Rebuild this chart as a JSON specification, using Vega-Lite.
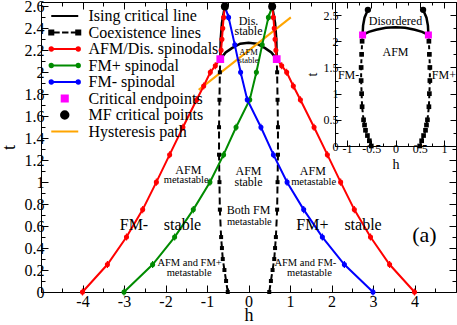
{
"$schema": "https://vega.github.io/schema/vega-lite/v6.json",
"autosize": {"type": "none"},
"padding": {"left": 41, "top": 2, "right": 1, "bottom": 33},
"width": 415,
"height": 290,
"config": {
  "font": "Liberation Serif",
  "view": {"stroke": null},
  "axis": {"domainColor": "black", "tickColor": "black", "labelColor": "black", "titleColor": "black", "labelFont": "Liberation Serif", "titleFont": "Liberation Serif", "titleFontWeight": "normal", "grid": false, "domainWidth": 1, "tickWidth": 1},
  "text": {"font": "Liberation Serif", "color": "black"}
},
"datasets": {
  "curves": [
    {"s":"AFM/Dis. spinodals","g":"rL","h":-4,"t":0},{"s":"AFM/Dis. spinodals","g":"rL","h":-3.4,"t":0.25},{"s":"AFM/Dis. spinodals","g":"rL","h":-2.94,"t":0.5},{"s":"AFM/Dis. spinodals","g":"rL","h":-2.55,"t":0.75},{"s":"AFM/Dis. spinodals","g":"rL","h":-2.22,"t":1},{"s":"AFM/Dis. spinodals","g":"rL","h":-1.9,"t":1.25},{"s":"AFM/Dis. spinodals","g":"rL","h":-1.58,"t":1.5},{"s":"AFM/Dis. spinodals","g":"rL","h":-1.25,"t":1.75},{"s":"AFM/Dis. spinodals","g":"rL","h":-1.08,"t":1.875},{"s":"AFM/Dis. spinodals","g":"rL","h":-0.92,"t":2},{"s":"AFM/Dis. spinodals","g":"rL","h":-0.8,"t":2.06},{"s":"AFM/Dis. spinodals","g":"rL","h":-0.68,"t":2.12},{"s":"AFM/Dis. spinodals","g":"rL","h":-0.66,"t":2.2},{"s":"AFM/Dis. spinodals","g":"rL","h":-0.64,"t":2.3},{"s":"AFM/Dis. spinodals","g":"rL","h":-0.62,"t":2.4},{"s":"AFM/Dis. spinodals","g":"rL","h":-0.6,"t":2.5},{"s":"AFM/Dis. spinodals","g":"rL","h":-0.57,"t":2.6},
    {"s":"AFM/Dis. spinodals","g":"rR","h":4,"t":0},{"s":"AFM/Dis. spinodals","g":"rR","h":3.4,"t":0.25},{"s":"AFM/Dis. spinodals","g":"rR","h":2.94,"t":0.5},{"s":"AFM/Dis. spinodals","g":"rR","h":2.55,"t":0.75},{"s":"AFM/Dis. spinodals","g":"rR","h":2.22,"t":1},{"s":"AFM/Dis. spinodals","g":"rR","h":1.9,"t":1.25},{"s":"AFM/Dis. spinodals","g":"rR","h":1.58,"t":1.5},{"s":"AFM/Dis. spinodals","g":"rR","h":1.25,"t":1.75},{"s":"AFM/Dis. spinodals","g":"rR","h":1.08,"t":1.875},{"s":"AFM/Dis. spinodals","g":"rR","h":0.92,"t":2},{"s":"AFM/Dis. spinodals","g":"rR","h":0.8,"t":2.06},{"s":"AFM/Dis. spinodals","g":"rR","h":0.68,"t":2.12},{"s":"AFM/Dis. spinodals","g":"rR","h":0.66,"t":2.2},{"s":"AFM/Dis. spinodals","g":"rR","h":0.64,"t":2.3},{"s":"AFM/Dis. spinodals","g":"rR","h":0.62,"t":2.4},{"s":"AFM/Dis. spinodals","g":"rR","h":0.6,"t":2.5},{"s":"AFM/Dis. spinodals","g":"rR","h":0.57,"t":2.6},
    {"s":"FM+ spinodal","g":"gr","h":-3,"t":0},{"s":"FM+ spinodal","g":"gr","h":-2.31,"t":0.25},{"s":"FM+ spinodal","g":"gr","h":-1.78,"t":0.5},{"s":"FM+ spinodal","g":"gr","h":-1.33,"t":0.75},{"s":"FM+ spinodal","g":"gr","h":-0.93,"t":1},{"s":"FM+ spinodal","g":"gr","h":-0.6,"t":1.25},{"s":"FM+ spinodal","g":"gr","h":-0.3,"t":1.5},{"s":"FM+ spinodal","g":"gr","h":0.03,"t":1.75},{"s":"FM+ spinodal","g":"gr","h":0.19,"t":2},{"s":"FM+ spinodal","g":"gr","h":0.33,"t":2.25},{"s":"FM+ spinodal","g":"gr","h":0.48,"t":2.5},{"s":"FM+ spinodal","g":"gr","h":0.57,"t":2.6},
    {"s":"FM- spinodal","g":"bl","h":3,"t":0},{"s":"FM- spinodal","g":"bl","h":2.31,"t":0.25},{"s":"FM- spinodal","g":"bl","h":1.78,"t":0.5},{"s":"FM- spinodal","g":"bl","h":1.33,"t":0.75},{"s":"FM- spinodal","g":"bl","h":0.93,"t":1},{"s":"FM- spinodal","g":"bl","h":0.6,"t":1.25},{"s":"FM- spinodal","g":"bl","h":0.3,"t":1.5},{"s":"FM- spinodal","g":"bl","h":-0.03,"t":1.75},{"s":"FM- spinodal","g":"bl","h":-0.19,"t":2},{"s":"FM- spinodal","g":"bl","h":-0.33,"t":2.25},{"s":"FM- spinodal","g":"bl","h":-0.48,"t":2.5},{"s":"FM- spinodal","g":"bl","h":-0.57,"t":2.6},
    {"s":"Coexistence lines","g":"cL","h":-0.5,"t":0},{"s":"Coexistence lines","g":"cL","h":-0.54,"t":0.1},{"s":"Coexistence lines","g":"cL","h":-0.58,"t":0.2},{"s":"Coexistence lines","g":"cL","h":-0.62,"t":0.3},{"s":"Coexistence lines","g":"cL","h":-0.64,"t":0.4},{"s":"Coexistence lines","g":"cL","h":-0.66,"t":0.5},{"s":"Coexistence lines","g":"cL","h":-0.69,"t":0.75},{"s":"Coexistence lines","g":"cL","h":-0.7,"t":1},{"s":"Coexistence lines","g":"cL","h":-0.71,"t":1.25},{"s":"Coexistence lines","g":"cL","h":-0.71,"t":1.5},{"s":"Coexistence lines","g":"cL","h":-0.7,"t":1.75},{"s":"Coexistence lines","g":"cL","h":-0.69,"t":2},{"s":"Coexistence lines","g":"cL","h":-0.68,"t":2.12},
    {"s":"Coexistence lines","g":"cR","h":0.5,"t":0},{"s":"Coexistence lines","g":"cR","h":0.54,"t":0.1},{"s":"Coexistence lines","g":"cR","h":0.58,"t":0.2},{"s":"Coexistence lines","g":"cR","h":0.62,"t":0.3},{"s":"Coexistence lines","g":"cR","h":0.64,"t":0.4},{"s":"Coexistence lines","g":"cR","h":0.66,"t":0.5},{"s":"Coexistence lines","g":"cR","h":0.69,"t":0.75},{"s":"Coexistence lines","g":"cR","h":0.7,"t":1},{"s":"Coexistence lines","g":"cR","h":0.71,"t":1.25},{"s":"Coexistence lines","g":"cR","h":0.71,"t":1.5},{"s":"Coexistence lines","g":"cR","h":0.7,"t":1.75},{"s":"Coexistence lines","g":"cR","h":0.69,"t":2},{"s":"Coexistence lines","g":"cR","h":0.68,"t":2.12},
    {"s":"Ising critical line","g":"iA","h":-0.68,"t":2.12},{"s":"Ising critical line","g":"iA","h":-0.55,"t":2.18},{"s":"Ising critical line","g":"iA","h":-0.4,"t":2.22},{"s":"Ising critical line","g":"iA","h":-0.2,"t":2.26},{"s":"Ising critical line","g":"iA","h":0,"t":2.27},{"s":"Ising critical line","g":"iA","h":0.2,"t":2.26},{"s":"Ising critical line","g":"iA","h":0.4,"t":2.22},{"s":"Ising critical line","g":"iA","h":0.55,"t":2.18},{"s":"Ising critical line","g":"iA","h":0.68,"t":2.12},
    {"s":"Ising critical line","g":"iL","h":-0.68,"t":2.12},{"s":"Ising critical line","g":"iL","h":-0.67,"t":2.3},{"s":"Ising critical line","g":"iL","h":-0.64,"t":2.45},{"s":"Ising critical line","g":"iL","h":-0.57,"t":2.6},
    {"s":"Ising critical line","g":"iR","h":0.68,"t":2.12},{"s":"Ising critical line","g":"iR","h":0.67,"t":2.3},{"s":"Ising critical line","g":"iR","h":0.64,"t":2.45},{"s":"Ising critical line","g":"iR","h":0.57,"t":2.6},
    {"s":"Hysteresis path","g":"hy","h":-1.2,"t":1.84},{"s":"Hysteresis path","g":"hy","h":1.02,"t":2.5}
  ],
  "pts": [
    {"s":"Critical endpoints","h":-0.68,"t":2.12},{"s":"Critical endpoints","h":0.68,"t":2.12},
    {"s":"MF critical points","h":-0.57,"t":2.6},{"s":"MF critical points","h":0.57,"t":2.6}
  ],
  "leg": [
    {"s":"Ising critical line"},{"s":"Coexistence lines"},{"s":"AFM/Dis. spinodals"},{"s":"FM+ spinodal"},{"s":"FM- spinodal"},{"s":"Critical endpoints"},{"s":"MF critical points"},{"s":"Hysteresis path"}
  ],
  "t16": [{"h":-2.76,"t":0.61,"text":"FM-"},{"h":-1.59,"t":0.61,"text":"stable"},{"h":1.54,"t":0.61,"text":"FM+"},{"h":2.76,"t":0.61,"text":"stable"}],
  "t22": [{"h":4.24,"t":0.52,"text":"(a)"}],
  "t12": [{"h":0,"t":2.47,"text":"Dis."},{"h":0,"t":2.375,"text":"stable"},{"h":0,"t":1.1,"text":"AFM"},{"h":0,"t":1.0,"text":"stable"},{"h":-1.45,"t":1.11,"text":"AFM"},{"h":1.55,"t":1.1,"text":"AFM"},{"h":0,"t":0.745,"text":"Both FM"}],
  "t10": [{"h":-1.5,"t":1.02,"text":"metastable"},{"h":1.57,"t":1.0,"text":"metastable"},{"h":0.02,"t":0.64,"text":"metastable"},{"h":-1.42,"t":0.26,"text":"AFM and FM+"},{"h":-1.43,"t":0.175,"text":"metastable"},{"h":1.37,"t":0.26,"text":"AFM and FM-"},{"h":1.47,"t":0.175,"text":"metastable"}],
  "t8": [{"h":0,"t":2.185,"text":"AFM"},{"h":0,"t":2.115,"text":"stable"}],
  "ti": [{"h":0,"t":2.39,"text":"Disordered"},{"h":0,"t":1.8,"text":"AFM"},{"h":-0.97,"t":1.35,"text":"FM-"},{"h":1.0,"t":1.35,"text":"FM+"}]
},
"resolve": {"scale": {"x": "independent", "y": "independent"}, "axis": {"x": "independent", "y": "independent"}},
"layer": [
  {
    "resolve": {"axis": {"x": "independent", "y": "independent"}},
    "layer": [
      {
        "data": {"name": "curves"},
        "transform": [{"filter": "datum.s === 'Coexistence lines'"}],
        "mark": {"type": "line", "color": "black", "strokeWidth": 2, "strokeDash": [7, 4]},
        "encoding": {
          "x": {"field": "h", "type": "quantitative", "scale": {"domain": [-5, 5], "nice": false, "zero": false},
            "axis": {"orient": "bottom", "values": [-5,-4.5,-4,-3.5,-3,-2.5,-2,-1.5,-1,-0.5,0,0.5,1,1.5,2,2.5,3,3.5,4,4.5,5],
              "tickSize": {"condition": {"test": "abs(datum.value-round(datum.value))<0.01", "value": -7}, "value": -4},
              "labelExpr": "abs(datum.value-round(datum.value))<0.01 && abs(datum.value)<4.5 ? (datum.value<0 ? '-'+abs(datum.value) : ''+datum.value) : ''",
              "labelFontSize": 16, "labelPadding": 8, "labelOverlap": false, "labelFlush": false, "labelBound": false,
              "title": "h", "titleFontSize": 18, "titlePadding": -6}},
          "y": {"field": "t", "type": "quantitative", "scale": {"domain": [0, 2.64], "nice": false, "zero": false},
            "axis": {"orient": "left", "values": [0,0.1,0.2,0.3,0.4,0.5,0.6,0.7,0.8,0.9,1,1.1,1.2,1.3,1.4,1.5,1.6,1.7,1.8,1.9,2,2.1,2.2,2.3,2.4,2.5,2.6],
              "tickSize": {"condition": {"test": "abs(datum.value*5-round(datum.value*5))<0.01", "value": -7}, "value": -4},
              "labelExpr": "abs(datum.value*5-round(datum.value*5))<0.01 ? format(datum.value, '.1~f') : ''",
              "labelFontSize": 16, "labelPadding": 4, "labelOverlap": false, "labelFlush": false, "labelBound": false,
              "title": "t", "titleFontSize": 18, "titlePadding": 6}},
          "detail": {"field": "g"},
          "order": {"value": null}
        }
      },
      {
        "data": {"name": "curves"},
        "transform": [{"filter": "datum.s === 'Ising critical line'"}],
        "mark": {"type": "line", "color": "black", "strokeWidth": 2.5},
        "encoding": {
          "x": {"field": "h", "type": "quantitative", "scale": {"domain": [-5, 5], "nice": false, "zero": false},
            "axis": {"orient": "top", "values": [-5,-4.5,-4,-3.5,-3,-2.5,-2,-1.5,-1,-0.5,0,0.5,1,1.5,2,2.5,3,3.5,4,4.5,5],
              "tickSize": {"condition": {"test": "abs(datum.value-round(datum.value))<0.01", "value": -7}, "value": -4},
              "labels": false, "title": null}},
          "y": {"field": "t", "type": "quantitative", "scale": {"domain": [0, 2.64], "nice": false, "zero": false},
            "axis": {"orient": "right", "values": [0,0.1,0.2,0.3,0.4,0.5,0.6,0.7,0.8,0.9,1,1.1,1.2,1.3,1.4,1.5,1.6,1.7,1.8,1.9,2,2.1,2.2,2.3,2.4,2.5,2.6],
              "tickSize": {"condition": {"test": "abs(datum.value*5-round(datum.value*5))<0.01", "value": -7}, "value": -4},
              "labels": false, "title": null}},
          "detail": {"field": "g"},
          "order": {"value": null}
        }
      },
      {
        "data": {"name": "curves"},
        "transform": [{"filter": "datum.s === 'Hysteresis path'"}],
        "mark": {"type": "line", "color": "#ffa500", "strokeWidth": 2},
        "encoding": {
          "x": {"field": "h", "type": "quantitative", "scale": {"domain": [-5, 5], "nice": false, "zero": false}, "axis": null},
          "y": {"field": "t", "type": "quantitative", "scale": {"domain": [0, 2.64], "nice": false, "zero": false}, "axis": null},
          "order": {"value": null}
        }
      },
      {
        "data": {"name": "curves"},
        "transform": [{"filter": "indexof(['AFM/Dis. spinodals','FM+ spinodal','FM- spinodal'], datum.s) >= 0"}],
        "mark": {"type": "line", "strokeWidth": 2},
        "encoding": {
          "x": {"field": "h", "type": "quantitative", "scale": {"domain": [-5, 5], "nice": false, "zero": false}, "axis": null},
          "y": {"field": "t", "type": "quantitative", "scale": {"domain": [0, 2.64], "nice": false, "zero": false}, "axis": null},
          "stroke": {"field": "s", "type": "nominal", "scale": {"domain": ["AFM/Dis. spinodals","FM+ spinodal","FM- spinodal"], "range": ["#ff0000","#008b00","#0000ff"]}, "legend": null},
          "detail": {"field": "g"},
          "order": {"value": null}
        }
      },
      {
        "data": {"name": "curves"},
        "transform": [{"filter": "indexof(['AFM/Dis. spinodals','FM+ spinodal','FM- spinodal'], datum.s) >= 0"}],
        "mark": {"type": "point", "filled": true, "shape": "M0,-1V1M0.55,0A0.55,0.55 0 1,0 -0.55,0A0.55,0.55 0 1,0 0.55,0", "size": 50, "strokeWidth": 1.2, "opacity": 1},
        "encoding": {
          "x": {"field": "h", "type": "quantitative", "scale": {"domain": [-5, 5], "nice": false, "zero": false}, "axis": null},
          "y": {"field": "t", "type": "quantitative", "scale": {"domain": [0, 2.64], "nice": false, "zero": false}, "axis": null},
          "stroke": {"field": "s", "type": "nominal", "scale": {"domain": ["AFM/Dis. spinodals","FM+ spinodal","FM- spinodal"], "range": ["#ff0000","#008b00","#0000ff"]}, "legend": null},
          "fill": {"field": "s", "type": "nominal", "scale": {"domain": ["AFM/Dis. spinodals","FM+ spinodal","FM- spinodal"], "range": ["#ff0000","#008b00","#0000ff"]}, "legend": null}
        }
      },
      {
        "data": {"name": "curves"},
        "transform": [{"filter": "datum.s === 'Coexistence lines'"}],
        "mark": {"type": "point", "shape": "square", "filled": true, "color": "black", "size": 16, "opacity": 1},
        "encoding": {
          "x": {"field": "h", "type": "quantitative", "scale": {"domain": [-5, 5], "nice": false, "zero": false}, "axis": null},
          "y": {"field": "t", "type": "quantitative", "scale": {"domain": [0, 2.64], "nice": false, "zero": false}, "axis": null}
        }
      },
      {
        "data": {"name": "pts"},
        "transform": [{"filter": "datum.s === 'Critical endpoints'"}],
        "mark": {"type": "point", "shape": "square", "filled": true, "color": "#ff00ff", "size": 60, "opacity": 1},
        "encoding": {
          "x": {"field": "h", "type": "quantitative", "scale": {"domain": [-5, 5], "nice": false, "zero": false}, "axis": null},
          "y": {"field": "t", "type": "quantitative", "scale": {"domain": [0, 2.64], "nice": false, "zero": false}, "axis": null}
        }
      },
      {
        "data": {"name": "pts"},
        "transform": [{"filter": "datum.s === 'MF critical points'"}],
        "mark": {"type": "point", "shape": "circle", "filled": true, "color": "black", "size": 64, "opacity": 1},
        "encoding": {
          "x": {"field": "h", "type": "quantitative", "scale": {"domain": [-5, 5], "nice": false, "zero": false}, "axis": null},
          "y": {"field": "t", "type": "quantitative", "scale": {"domain": [0, 2.64], "nice": false, "zero": false}, "axis": null}
        }
      },
      {
        "data": {"name": "t16"},
        "mark": {"type": "text", "fontSize": 16},
        "encoding": {
          "x": {"field": "h", "type": "quantitative", "scale": {"domain": [-5, 5], "nice": false, "zero": false}, "axis": null},
          "y": {"field": "t", "type": "quantitative", "scale": {"domain": [0, 2.64], "nice": false, "zero": false}, "axis": null},
          "text": {"field": "text"}
        }
      },
      {
        "data": {"name": "t22"},
        "mark": {"type": "text", "fontSize": 22},
        "encoding": {
          "x": {"field": "h", "type": "quantitative", "scale": {"domain": [-5, 5], "nice": false, "zero": false}, "axis": null},
          "y": {"field": "t", "type": "quantitative", "scale": {"domain": [0, 2.64], "nice": false, "zero": false}, "axis": null},
          "text": {"field": "text"}
        }
      },
      {
        "data": {"name": "t12"},
        "mark": {"type": "text", "fontSize": 12},
        "encoding": {
          "x": {"field": "h", "type": "quantitative", "scale": {"domain": [-5, 5], "nice": false, "zero": false}, "axis": null},
          "y": {"field": "t", "type": "quantitative", "scale": {"domain": [0, 2.64], "nice": false, "zero": false}, "axis": null},
          "text": {"field": "text"}
        }
      },
      {
        "data": {"name": "t10"},
        "mark": {"type": "text", "fontSize": 10.5},
        "encoding": {
          "x": {"field": "h", "type": "quantitative", "scale": {"domain": [-5, 5], "nice": false, "zero": false}, "axis": null},
          "y": {"field": "t", "type": "quantitative", "scale": {"domain": [0, 2.64], "nice": false, "zero": false}, "axis": null},
          "text": {"field": "text"}
        }
      },
      {
        "data": {"name": "t8"},
        "mark": {"type": "text", "fontSize": 8.5},
        "encoding": {
          "x": {"field": "h", "type": "quantitative", "scale": {"domain": [-5, 5], "nice": false, "zero": false}, "axis": null},
          "y": {"field": "t", "type": "quantitative", "scale": {"domain": [0, 2.64], "nice": false, "zero": false}, "axis": null},
          "text": {"field": "text"}
        }
      },
      {
        "data": {"name": "leg"},
        "mark": {"type": "point", "filled": true, "opacity": 0},
        "encoding": {
          "color": {"field": "s", "type": "nominal",
            "scale": {"domain": ["Ising critical line","Coexistence lines","AFM/Dis. spinodals","FM+ spinodal","FM- spinodal","Critical endpoints","MF critical points","Hysteresis path"],
                      "range": ["#000000","#000000","#ff0000","#008b00","#0000ff","#ff00ff","#000000","#ffa500"]},
            "legend": {"orient": "none", "legendX": 15.75, "legendY": 6, "title": null, "padding": 0, "labelFont": "Liberation Serif", "labelFontSize": 16, "labelColor": "black", "labelLimit": 300, "symbolSize": 182, "symbolStrokeWidth": 2, "symbolOpacity": 1, "labelOffset": 15.75, "rowPadding": 0.5,
              "encode": {"symbols": {"update": {"stroke": {"scale": "color", "field": "value"}, "fill": {"scale": "color", "field": "value"}}}}}},
          "shape": {"field": "s", "type": "nominal",
            "scale": {"domain": ["Ising critical line","Coexistence lines","AFM/Dis. spinodals","FM+ spinodal","FM- spinodal","Critical endpoints","MF critical points","Hysteresis path"],
                      "range": ["M-2,0H2",
                                "M-2.3,-0.3H-1.7V0.3H-2.3Z M1.7,-0.3H2.3V0.3H1.7Z M-1.7,0H-0.75 M-0.4,0H0.55 M0.9,0H1.7",
                                "M-2,0H2 M-1.75,0A0.25,0.25 0 1,0 -2.25,0A0.25,0.25 0 1,0 -1.75,0 M2.25,0A0.25,0.25 0 1,0 1.75,0A0.25,0.25 0 1,0 2.25,0",
                                "M-2,0H2 M-1.75,0A0.25,0.25 0 1,0 -2.25,0A0.25,0.25 0 1,0 -1.75,0 M2.25,0A0.25,0.25 0 1,0 1.75,0A0.25,0.25 0 1,0 2.25,0",
                                "M-2,0H2 M-1.75,0A0.25,0.25 0 1,0 -2.25,0A0.25,0.25 0 1,0 -1.75,0 M2.25,0A0.25,0.25 0 1,0 1.75,0A0.25,0.25 0 1,0 2.25,0",
                                "M-0.45,-0.45H0.45V0.45H-0.45Z",
                                "M0.55,0A0.55,0.55 0 1,0 -0.55,0A0.55,0.55 0 1,0 0.55,0",
                                "M-2,0H2"]},
            "legend": {"orient": "none", "legendX": 15.75, "legendY": 6, "title": null, "padding": 0, "labelFont": "Liberation Serif", "labelFontSize": 16, "labelColor": "black", "labelLimit": 300, "symbolSize": 182, "symbolStrokeWidth": 2, "symbolOpacity": 1, "labelOffset": 15.75, "rowPadding": 0.5}}
        }
      }
    ]
  },
  {
    "resolve": {"axis": {"x": "independent", "y": "independent"}},
    "layer": [
      {
        "data": {"values": [{}]},
        "mark": {"type": "rect", "fill": "white", "stroke": null},
        "encoding": {
          "x": {"datum": -1.25, "type": "quantitative", "scale": {"domain": [-1.25, 1.25], "range": [294, 415], "nice": false, "zero": false},
            "axis": {"orient": "bottom", "offset": -146, "zindex": 1, "values": [-1.25,-1,-0.75,-0.5,-0.25,0,0.25,0.5,0.75,1,1.25],
              "tickSize": {"condition": {"test": "abs(datum.value*2-round(datum.value*2))<0.01", "value": -6}, "value": -3},
              "labelExpr": "abs(datum.value*2-round(datum.value*2))<0.01 && abs(datum.value)<1.1 ? (datum.value<0 ? '-'+abs(datum.value) : ''+datum.value) : ''",
              "labelFontSize": 12, "labelPadding": 3, "labelOverlap": false, "labelFlush": false, "labelBound": false,
              "title": "h", "titleFontSize": 14, "titlePadding": 0}},
          "x2": {"datum": 1.25},
          "y": {"datum": 0, "type": "quantitative", "scale": {"domain": [0, 2.75], "range": [144, 0], "nice": false, "zero": false},
            "axis": {"orient": "left", "offset": -294, "zindex": 1, "values": [0,0.25,0.5,0.75,1,1.25,1.5,1.75,2,2.25,2.5,2.75],
              "tickSize": {"condition": {"test": "abs(datum.value*2-round(datum.value*2))<0.01", "value": -6}, "value": -3},
              "labelExpr": "abs(datum.value*2-round(datum.value*2))<0.01 && datum.value<2.6 ? ''+datum.value : ''",
              "labelFontSize": 12, "labelPadding": 3, "labelOverlap": false, "labelFlush": false, "labelBound": false,
              "title": "t", "titleFontSize": 14, "titlePadding": 4}},
          "y2": {"datum": 2.75}
        }
      },
      {
        "data": {"name": "curves"},
        "transform": [{"filter": "datum.s === 'Ising critical line'"}],
        "mark": {"type": "line", "color": "black", "strokeWidth": 2.5},
        "encoding": {
          "x": {"field": "h", "type": "quantitative", "scale": {"domain": [-1.25, 1.25], "range": [294, 415], "nice": false, "zero": false},
            "axis": {"orient": "top", "offset": 0, "zindex": 1, "values": [-1.25,-1,-0.75,-0.5,-0.25,0,0.25,0.5,0.75,1,1.25],
              "tickSize": {"condition": {"test": "abs(datum.value*2-round(datum.value*2))<0.01", "value": -6}, "value": -3},
              "labels": false, "title": null}},
          "y": {"field": "t", "type": "quantitative", "scale": {"domain": [0, 2.75], "range": [144, 0], "nice": false, "zero": false},
            "axis": {"orient": "right", "offset": 0, "zindex": 1, "values": [0,0.25,0.5,0.75,1,1.25,1.5,1.75,2,2.25,2.5,2.75],
              "tickSize": {"condition": {"test": "abs(datum.value*2-round(datum.value*2))<0.01", "value": -6}, "value": -3},
              "labels": false, "title": null}},
          "detail": {"field": "g"},
          "order": {"value": null}
        }
      },
      {
        "data": {"name": "curves"},
        "transform": [{"filter": "datum.s === 'Coexistence lines'"}],
        "mark": {"type": "line", "color": "black", "strokeWidth": 2, "strokeDash": [4, 3]},
        "encoding": {
          "x": {"field": "h", "type": "quantitative", "scale": {"domain": [-1.25, 1.25], "range": [294, 415], "nice": false, "zero": false}, "axis": null},
          "y": {"field": "t", "type": "quantitative", "scale": {"domain": [0, 2.75], "range": [144, 0], "nice": false, "zero": false}, "axis": null},
          "detail": {"field": "g"},
          "order": {"value": null}
        }
      },
      {
        "data": {"name": "curves"},
        "transform": [{"filter": "datum.s === 'Coexistence lines'"}],
        "mark": {"type": "point", "shape": "square", "filled": true, "color": "black", "size": 22, "opacity": 1},
        "encoding": {
          "x": {"field": "h", "type": "quantitative", "scale": {"domain": [-1.25, 1.25], "range": [294, 415], "nice": false, "zero": false}, "axis": null},
          "y": {"field": "t", "type": "quantitative", "scale": {"domain": [0, 2.75], "range": [144, 0], "nice": false, "zero": false}, "axis": null}
        }
      },
      {
        "data": {"name": "pts"},
        "transform": [{"filter": "datum.s === 'Critical endpoints'"}],
        "mark": {"type": "point", "shape": "square", "filled": true, "color": "#ff00ff", "size": 49, "opacity": 1},
        "encoding": {
          "x": {"field": "h", "type": "quantitative", "scale": {"domain": [-1.25, 1.25], "range": [294, 415], "nice": false, "zero": false}, "axis": null},
          "y": {"field": "t", "type": "quantitative", "scale": {"domain": [0, 2.75], "range": [144, 0], "nice": false, "zero": false}, "axis": null}
        }
      },
      {
        "data": {"name": "pts"},
        "transform": [{"filter": "datum.s === 'MF critical points'"}],
        "mark": {"type": "point", "shape": "circle", "filled": true, "color": "black", "size": 40, "opacity": 1},
        "encoding": {
          "x": {"field": "h", "type": "quantitative", "scale": {"domain": [-1.25, 1.25], "range": [294, 415], "nice": false, "zero": false}, "axis": null},
          "y": {"field": "t", "type": "quantitative", "scale": {"domain": [0, 2.75], "range": [144, 0], "nice": false, "zero": false}, "axis": null}
        }
      },
      {
        "data": {"name": "ti"},
        "mark": {"type": "text", "fontSize": 12},
        "encoding": {
          "x": {"field": "h", "type": "quantitative", "scale": {"domain": [-1.25, 1.25], "range": [294, 415], "nice": false, "zero": false}, "axis": null},
          "y": {"field": "t", "type": "quantitative", "scale": {"domain": [0, 2.75], "range": [144, 0], "nice": false, "zero": false}, "axis": null},
          "text": {"field": "text"}
        }
      }
    ]
  }
]
}
